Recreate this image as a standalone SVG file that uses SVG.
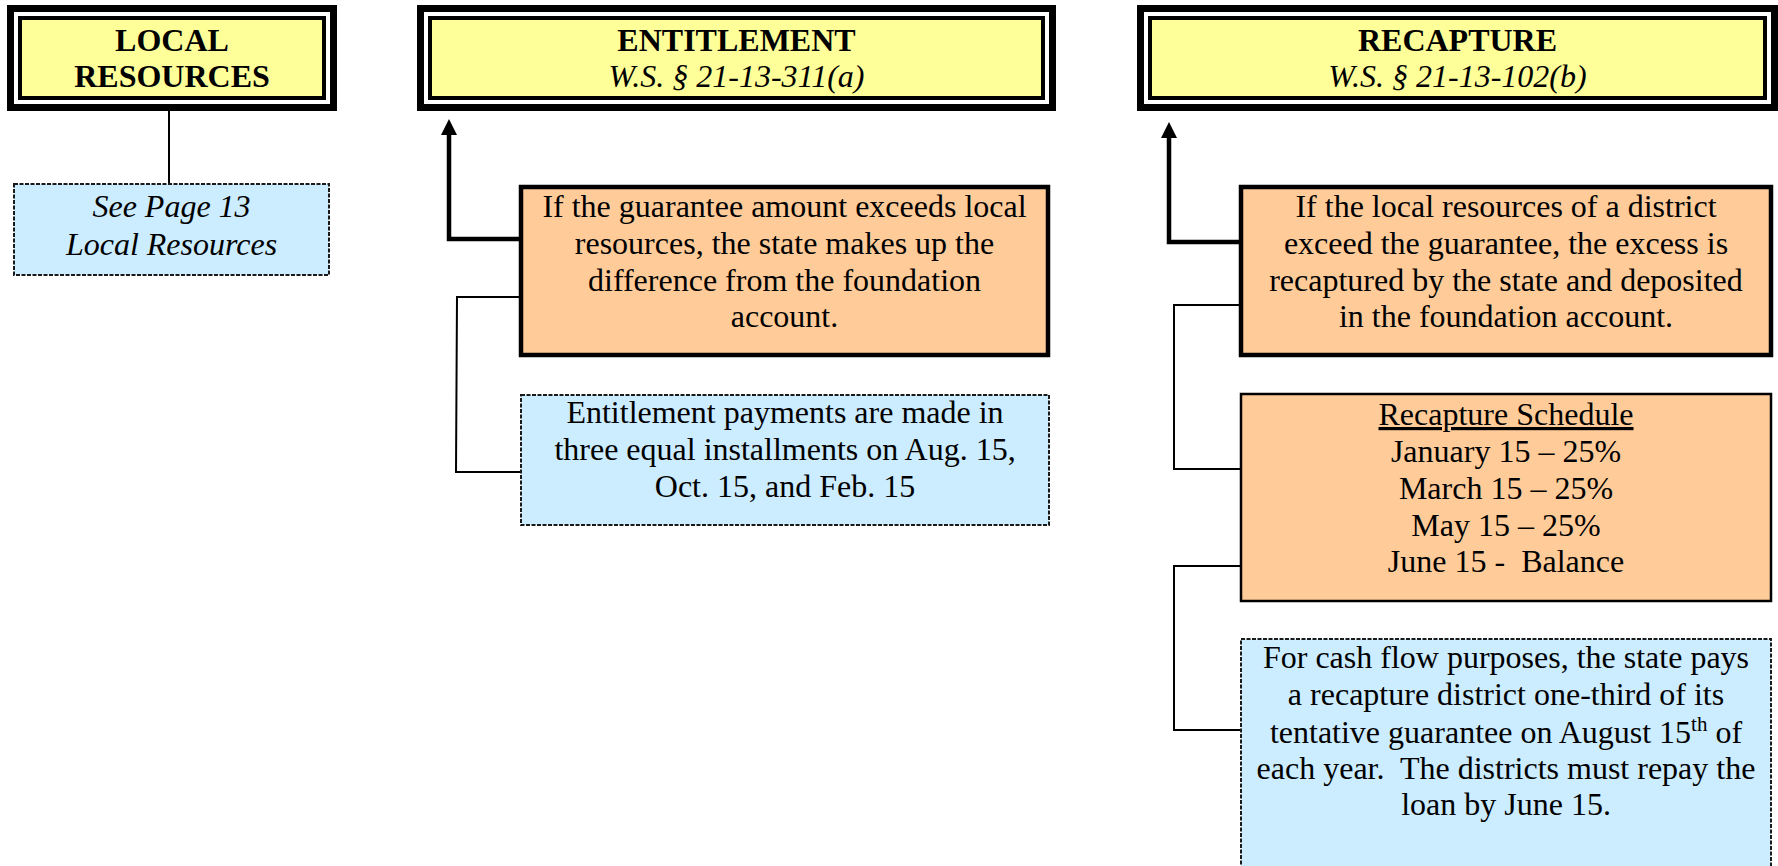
<svg xmlns="http://www.w3.org/2000/svg" width="1778" height="866" viewBox="0 0 1778 866">
<defs>
<style>
.t{font-family:"Liberation Serif","Times New Roman",serif;font-size:32px;fill:#000;text-anchor:middle}
.b{font-weight:bold}
.i{font-style:italic}
.frame-o{fill:#000}
.frame-w{fill:#fff}
.yellow{fill:#FFFF99}
.orange{fill:#FFCC99;stroke:#000}
.blue{fill:#CCECFF;stroke:#1a1a1a;stroke-width:2;stroke-dasharray:4 1.5}
.thick{fill:none;stroke:#000;stroke-width:4.5}
.thin{fill:none;stroke:#000;stroke-width:2}
</style>
<marker id="ah" markerWidth="16" markerHeight="16" viewBox="0 0 16 16" refX="1" refY="8" orient="auto" markerUnits="userSpaceOnUse">
<path d="M0 0 L16 8 L0 16 Z" fill="#000"/>
</marker>
</defs>
<rect width="1778" height="866" fill="#fff"/>

<g id="local-header">
<rect class="frame-o" x="7" y="5" width="330" height="106"/>
<rect class="frame-w" x="14" y="12" width="316" height="92"/>
<rect class="frame-o" x="18" y="16" width="308" height="84"/>
<rect class="yellow" x="22" y="20" width="300" height="76"/>
<text class="t b" x="172" y="51">LOCAL</text>
<text class="t b" x="172" y="87">RESOURCES</text>
</g>

<g id="entitlement-header">
<rect class="frame-o" x="417" y="5" width="639" height="106"/>
<rect class="frame-w" x="424" y="12" width="625" height="92"/>
<rect class="frame-o" x="428" y="16" width="617" height="84"/>
<rect class="yellow" x="432" y="20" width="609" height="76"/>
<text class="t b" x="736.5" y="51">ENTITLEMENT</text>
<text class="t i" x="736.5" y="87">W.S. § 21-13-311(a)</text>
</g>

<g id="recapture-header">
<rect class="frame-o" x="1137" y="5" width="641" height="106"/>
<rect class="frame-w" x="1144" y="12" width="627" height="92"/>
<rect class="frame-o" x="1148" y="16" width="619" height="84"/>
<rect class="yellow" x="1152" y="20" width="611" height="76"/>
<text class="t b" x="1457.5" y="51">RECAPTURE</text>
<text class="t i" x="1457.5" y="87">W.S. § 21-13-102(b)</text>
</g>

<g id="connectors">
<line class="thin" x1="169" y1="111" x2="169" y2="184" stroke-width="2.5"/>
<polyline class="thick" points="519,239 449,239 449,134" marker-end="url(#ah)"/>
<polyline class="thin" points="519,297 457,297 456,472 521,472"/>
<polyline class="thick" points="1239,242 1169,242 1169,137" marker-end="url(#ah)"/>
<polyline class="thin" points="1239,305 1174,305 1174,469 1240,469"/>
<polyline class="thin" points="1240,566 1174,566 1174,730 1240,730"/>
</g>

<g id="local-note">
<rect class="blue" x="14" y="184" width="315" height="91"/>
<text class="t i" x="171.5" y="217">See Page 13</text>
<text class="t i" x="171.5" y="255">Local Resources</text>
</g>

<g id="entitlement-rule">
<rect class="orange" x="521" y="187" width="527" height="168" stroke-width="4.5"/>
<text class="t" x="784.5" y="217">If the guarantee amount exceeds local</text>
<text class="t" x="784.5" y="254">resources, the state makes up the</text>
<text class="t" x="784.5" y="291">difference from the foundation</text>
<text class="t" x="784.5" y="327">account.</text>
</g>

<g id="entitlement-payments">
<rect class="blue" x="521" y="395" width="528" height="130"/>
<text class="t" x="785" y="423">Entitlement payments are made in</text>
<text class="t" x="785" y="460">three equal installments on Aug. 15,</text>
<text class="t" x="785" y="497">Oct. 15, and Feb. 15</text>
</g>

<g id="recapture-rule">
<rect class="orange" x="1241" y="187" width="530" height="168" stroke-width="4.5"/>
<text class="t" x="1506" y="217">If the local resources of a district</text>
<text class="t" x="1506" y="254">exceed the guarantee, the excess is</text>
<text class="t" x="1506" y="291">recaptured by the state and deposited</text>
<text class="t" x="1506" y="327">in the foundation account.</text>
</g>

<g id="recapture-schedule">
<rect class="orange" x="1241" y="394" width="530" height="207" stroke-width="2.5"/>
<text class="t" x="1506" y="425" text-decoration="underline">Recapture Schedule</text>
<text class="t" x="1506" y="462">January 15 – 25%</text>
<text class="t" x="1506" y="499">March 15 – 25%</text>
<text class="t" x="1506" y="536">May 15 – 25%</text>
<text class="t" x="1506" y="572" xml:space="preserve">June 15 -  Balance</text>
</g>

<g id="cash-flow-note">
<rect class="blue" x="1241" y="639" width="530" height="240"/>
<text class="t" x="1506" y="668">For cash flow purposes, the state pays</text>
<text class="t" x="1506" y="705">a recapture district one-third of its</text>
<text class="t" x="1506" y="743">tentative guarantee on August 15<tspan font-size="21" dy="-12">th</tspan><tspan dy="12"> of</tspan></text>
<text class="t" x="1506" y="779" xml:space="preserve">each year.  The districts must repay the</text>
<text class="t" x="1506" y="815">loan by June 15.</text>
</g>
</svg>
